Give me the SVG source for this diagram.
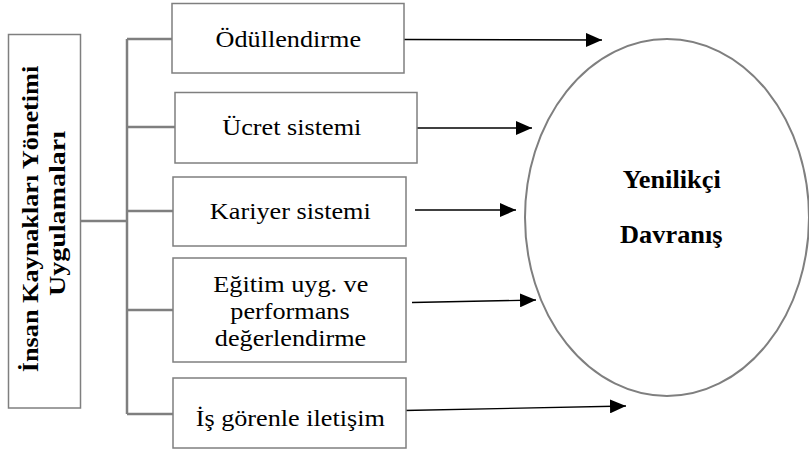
<svg xmlns="http://www.w3.org/2000/svg" width="809" height="455" viewBox="0 0 809 455">
<style>
.box{fill:#fff;stroke:#7f7f7f;stroke-width:1.5}
.tree{fill:none;stroke:#7f7f7f;stroke-width:2.5}
.arr{fill:none;stroke:#000;stroke-width:1.3}
</style>
<defs>
<marker id="ah" markerUnits="userSpaceOnUse" markerWidth="16" markerHeight="14" refX="16" refY="7" orient="auto">
<path d="M0,0 L16,7 L0,14 z" fill="#000"/>
</marker>
</defs>
<rect width="809" height="455" fill="#fff"/>
<g id="connectors">
<path class="tree" d="M80,221 H127 M127,39 V414 M127,39 H172 M127,127 H175 M127,211 H173 M127,310 H173 M127,414 H173"/>
<line class="arr" x1="404" y1="39.5" x2="602" y2="40" marker-end="url(#ah)"/>
<line class="arr" x1="412" y1="128" x2="532" y2="128" marker-end="url(#ah)"/>
<line class="arr" x1="415" y1="210" x2="516" y2="210" marker-end="url(#ah)"/>
<line class="arr" x1="412" y1="302.5" x2="536" y2="300" marker-end="url(#ah)"/>
<line class="arr" x1="404" y1="410.5" x2="626" y2="406" marker-end="url(#ah)"/>
</g>
<g id="ikyu">
<rect class="box" x="8.5" y="34.5" width="72" height="373.5"/>
<text font-family="Liberation Serif" font-size="23" font-weight="bold" text-anchor="middle" transform="translate(37.5,219) rotate(-90) scale(1.14,1)">İnsan Kaynakları Yönetimi</text>
<text font-family="Liberation Serif" font-size="23" font-weight="bold" text-anchor="middle" transform="translate(65,213.5) rotate(-90) scale(1.22,1)">Uygulamaları</text>
</g>
<g id="odullendirme">
<rect class="box" x="172" y="3.5" width="232" height="69.5"/>
<text font-family="Liberation Serif" font-size="23" text-anchor="middle" transform="translate(288.3,46.7) scale(1.14,1)">Ödüllendirme</text>
</g>
<g id="ucret">
<rect class="box" x="175" y="92.5" width="242" height="70.5"/>
<text font-family="Liberation Serif" font-size="23" text-anchor="middle" transform="translate(291.8,135) scale(1.14,1)">Ücret sistemi</text>
</g>
<g id="kariyer">
<rect class="box" x="173" y="177" width="233" height="69"/>
<text font-family="Liberation Serif" font-size="23" text-anchor="middle" transform="translate(290.3,219) scale(1.14,1)">Kariyer sistemi</text>
</g>
<g id="egitim">
<rect class="box" x="173" y="258" width="233" height="104"/>
<text font-family="Liberation Serif" font-size="23" text-anchor="middle" transform="translate(290.8,291.5) scale(1.14,1)">Eğitim uyg. ve</text>
<text font-family="Liberation Serif" font-size="23" text-anchor="middle" transform="translate(290,318.5) scale(1.14,1)">performans</text>
<text font-family="Liberation Serif" font-size="23" text-anchor="middle" transform="translate(290.5,345.5) scale(1.14,1)">değerlendirme</text>
</g>
<g id="isgorenle">
<rect class="box" x="173" y="378" width="233" height="70"/>
<text font-family="Liberation Serif" font-size="23" text-anchor="middle" transform="translate(290.3,425.7) scale(1.14,1)">İş görenle iletişim</text>
</g>
<g id="yenilikci">
<ellipse cx="667" cy="217.5" rx="142" ry="178.5" fill="none" stroke="#7f7f7f" stroke-width="2"/>
<text font-family="Liberation Serif" font-size="24.5" font-weight="bold" text-anchor="middle" transform="translate(671.7,188.3) scale(1.075,1)">Yenilikçi</text>
<text font-family="Liberation Serif" font-size="24.5" font-weight="bold" text-anchor="middle" transform="translate(671.3,242.7) scale(1.075,1)">Davranış</text>
</g>
</svg>
